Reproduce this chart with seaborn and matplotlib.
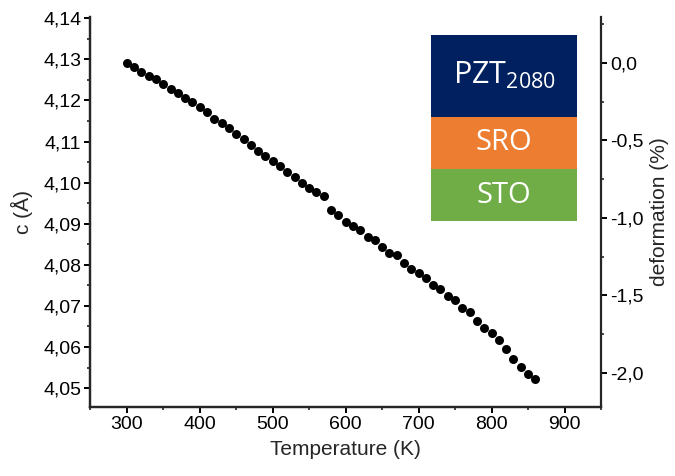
"""
Lattice parameter c vs temperature for PZT 20/80 on SRO/STO.

Run: python plot.py
"""
import matplotlib
matplotlib.use("Agg")
import matplotlib.pyplot as plt
from matplotlib.patches import Rectangle
from matplotlib.ticker import FuncFormatter, MultipleLocator
import seaborn as sns

# Data
temperature_k = [300, 310, 320, 330, 340, 350, 360, 370, 380, 390,
                 400, 410, 420, 430, 440, 450, 460, 470, 480, 490,
                 500, 510, 520, 530, 540, 550, 560, 570, 580, 590,
                 600, 610, 620, 630, 640, 650, 660, 670, 680, 690,
                 700, 710, 720, 730, 740, 750, 760, 770, 780, 790,
                 800, 810, 820, 830, 840, 850, 860]
c_angstrom = [4.1290, 4.1282, 4.1269, 4.1259, 4.1251, 4.1239, 4.1227, 4.1218, 4.1207, 4.1195,
              4.1183, 4.1171, 4.1156, 4.1145, 4.1132, 4.1119, 4.1105, 4.1091, 4.1078, 4.1064,
              4.1053, 4.1040, 4.1027, 4.1014, 4.1000, 4.0988, 4.0977, 4.0967, 4.0933, 4.0920,
              4.0905, 4.0895, 4.0885, 4.0868, 4.0860, 4.0844, 4.0828, 4.0823, 4.0805, 4.0789,
              4.0780, 4.0767, 4.0750, 4.0740, 4.0724, 4.0714, 4.0694, 4.0684, 4.0664, 4.0647,
              4.0633, 4.0618, 4.0595, 4.0570, 4.0552, 4.0534, 4.0522]

layer_names = [r"PZT$_{2080}$", "SRO", "STO"]
layer_colors = ["#002060", "#ED7D31", "#70AD47"]

sns.set_style("ticks")
plt.rcParams["font.family"] = ["Liberation Sans", "DejaVu Sans"]
plt.rcParams["mathtext.fontset"] = "custom"
plt.rcParams["mathtext.rm"] = "Open Sans"
plt.rcParams["mathtext.it"] = "Open Sans"


def comma(fmt):
    return FuncFormatter(lambda v, _: (fmt % v).replace(".", ","))


fig = plt.figure(figsize=(6.75, 4.76), dpi=100)
ax = fig.add_axes([90.3 / 675, (476 - 407) / 476, (601 - 90.3) / 675, 390 / 476])

sns.scatterplot(x=temperature_k, y=c_angstrom, ax=ax, color="black",
                s=42, linewidth=0, legend=False)

ax.set_xlim(250, 950)
ax.set_ylim(4.0454, 4.1403)
ax.xaxis.set_major_locator(MultipleLocator(100))
ax.xaxis.set_minor_locator(MultipleLocator(50))
ax.yaxis.set_major_locator(MultipleLocator(0.01))
ax.yaxis.set_minor_locator(MultipleLocator(0.005))
ax.yaxis.set_major_formatter(comma("%.2f"))
ax.set_xlabel("Temperature (K)", fontsize=15, labelpad=5)
ax.set_ylabel("c (Å)", fontsize=15, labelpad=7)

ax2 = ax.twinx()
ax2.set_ylim(-2.222, 0.297)
ax2.yaxis.set_major_locator(MultipleLocator(0.5))
ax2.yaxis.set_minor_locator(MultipleLocator(0.25))
ax2.yaxis.set_major_formatter(comma("%.1f"))
ax2.set_ylabel("deformation (%)", fontsize=15, labelpad=5)

for a in (ax, ax2):
    a.spines["top"].set_visible(False)
    for s in a.spines.values():
        s.set_linewidth(1.6)
    a.tick_params(which="major", direction="out", length=4, width=1.4,
                  labelsize=14, colors="black", pad=2.5)
    a.tick_params(which="minor", direction="out", length=2.2, width=1.2)
ax.spines["right"].set_visible(False)

# layer stack sketch
box_x0, box_w = 0.667, 0.286
edges = [0.954, 0.744, 0.610, 0.477]
for i, (name, col) in enumerate(zip(layer_names, layer_colors)):
    top, bot = edges[i], edges[i + 1]
    ax.add_patch(Rectangle((box_x0, bot), box_w, top - bot, transform=ax.transAxes,
                           facecolor=col, edgecolor="none", zorder=3, clip_on=False))
    ax.text(box_x0 + box_w / 2, (top + bot) / 2, name, transform=ax.transAxes,
            ha="center", va="center", color="white", fontsize=22 if i == 0 else 21,
            family="Open Sans", zorder=4)

fig.savefig("out.png", dpi=100)
